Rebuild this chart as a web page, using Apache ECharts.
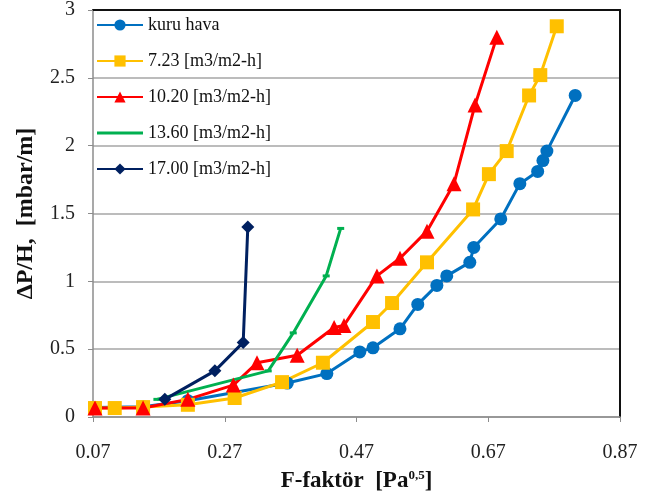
<!DOCTYPE html>
<html>
<head>
<meta charset="utf-8">
<script src="https://cdn.jsdelivr.net/npm/echarts@6/dist/echarts.min.js"></script>
<style>
  html, body { margin: 0; padding: 0; background: #fff; }
  #chart { width: 666px; height: 499px; }
</style>
</head>
<body>
<div id="chart"></div>
<script>
// Pressure drop per packing height vs. F-factor, dry and at four liquid loads
const seriesNames = ['kuru hava', '7.23 [m3/m2-h]', '10.20 [m3/m2-h]', '13.60 [m3/m2-h]', '17.00 [m3/m2-h]'];

const fDry = [0.073, 0.146, 0.214, 0.365, 0.425, 0.475, 0.495, 0.536, 0.563, 0.592, 0.607, 0.642, 0.648, 0.689, 0.718, 0.745, 0.753, 0.759, 0.802];
const dpDry = [0.07, 0.075, 0.12, 0.25, 0.32, 0.48, 0.51, 0.65, 0.83, 0.97, 1.04, 1.14, 1.25, 1.46, 1.72, 1.81, 1.89, 1.96, 2.37];

const f723 = [0.073, 0.103, 0.146, 0.214, 0.285, 0.357, 0.419, 0.495, 0.524, 0.577, 0.647, 0.671, 0.698, 0.732, 0.749, 0.774];
const dp723 = [0.066, 0.066, 0.073, 0.09, 0.14, 0.257, 0.40, 0.70, 0.84, 1.14, 1.53, 1.79, 1.96, 2.37, 2.52, 2.88];

const f1020 = [0.073, 0.146, 0.214, 0.283, 0.319, 0.380, 0.436, 0.451, 0.501, 0.536, 0.577, 0.618, 0.650, 0.683];
const dp1020 = [0.066, 0.066, 0.13, 0.235, 0.40, 0.455, 0.66, 0.675, 1.04, 1.17, 1.37, 1.72, 2.30, 2.80];

const f1360 = [0.167, 0.336, 0.374, 0.424, 0.446];
const dp1360 = [0.13, 0.34, 0.62, 1.04, 1.39];

const f1700 = [0.179, 0.255, 0.298, 0.305];
const dp1700 = [0.13, 0.34, 0.55, 1.40];

const xTicks = { min: 0.07, max: 0.87, step: 0.2 };
const yTicks = { min: 0, max: 3, step: 0.5 };

const pairs = (xs, ys) => xs.map((x, i) => [x, ys[i]]);

const serif = 'Liberation Serif, Times New Roman, serif';
const gridColor = '#a6a6a6';

function lineSeries(name, data, color, symbol, size) {
  return {
    name: name,
    type: 'line',
    data: data,
    xAxisIndex: 0,
    yAxisIndex: 0,
    symbol: symbol,
    symbolSize: size,
    showAllSymbol: true,
    lineStyle: { color: color, width: 3 },
    itemStyle: { color: color },
    emphasis: { disabled: true },
    animation: false
  };
}

const chart = echarts.init(document.getElementById('chart'), null, { renderer: 'canvas' });

chart.setOption({
  backgroundColor: '#ffffff',
  animation: false,
  grid: { left: 93, right: 46, top: 8, bottom: 82, containLabel: false },
  legend: {
    orient: 'vertical',
    left: 91,
    top: 11,
    itemWidth: 46,
    itemHeight: 14,
    itemGap: 18,
    textStyle: { fontFamily: serif, fontSize: 18, color: '#111' },
    data: [
      seriesNames[0],
      seriesNames[1],
      seriesNames[2],
      { name: seriesNames[3], icon: 'path://M0,0H46V3H0Z' },
      seriesNames[4]
    ]
  },
  xAxis: [{
    type: 'value',
    min: xTicks.min,
    max: xTicks.max,
    interval: xTicks.step,
    axisLine: { show: true, lineStyle: { color: '#8c8c8c', width: 1.5 } },
    axisTick: { show: true, length: 5, lineStyle: { color: '#8c8c8c' } },
    axisLabel: {
      margin: 26,
      fontFamily: serif,
      fontSize: 20,
      color: '#222',
      formatter: v => v.toFixed(2)
    },
    splitLine: { show: false },
    name: '{b|F-faktör  [Pa}{s|0,5}{b|]}',
    nameLocation: 'middle',
    nameGap: 52,
    nameTextStyle: {
      rich: {
        b: { fontFamily: serif, fontWeight: 'bold', fontSize: 23, color: '#111', verticalAlign: 'bottom', lineHeight: 24 },
        s: { fontFamily: serif, fontWeight: 'bold', fontSize: 13, color: '#111', verticalAlign: 'top', lineHeight: 24, padding: [0, 0, 10, 0] }
      }
    }
  }, {
    type: 'value',
    position: 'top',
    min: xTicks.min,
    max: xTicks.max,
    axisLine: { show: true, onZero: false, lineStyle: { color: '#111', width: 2 } },
    axisTick: { show: false },
    axisLabel: { show: false },
    splitLine: { show: false }
  }],
  yAxis: [{
    type: 'value',
    min: yTicks.min,
    max: yTicks.max,
    interval: yTicks.step,
    axisLine: { show: true, lineStyle: { color: '#8c8c8c', width: 1.5 } },
    axisTick: { show: true, length: 5, lineStyle: { color: '#8c8c8c' } },
    axisLabel: { margin: 18, fontFamily: serif, fontSize: 20, color: '#222' },
    splitLine: { show: true, lineStyle: { color: gridColor, width: 1.5 } },
    name: 'ΔP/H,  [mbar/m]',
    nameLocation: 'middle',
    nameGap: 55,
    nameTextStyle: { fontFamily: serif, fontWeight: 'bold', fontSize: 24, color: '#111' }
  }, {
    type: 'value',
    position: 'right',
    min: yTicks.min,
    max: yTicks.max,
    axisLine: { show: true, onZero: false, lineStyle: { color: '#111', width: 2 } },
    axisTick: { show: false },
    axisLabel: { show: false },
    splitLine: { show: false }
  }],
  series: [
    lineSeries(seriesNames[0], pairs(fDry, dpDry), '#0070C0', 'circle', 13),
    lineSeries(seriesNames[1], pairs(f723, dp723), '#FFC000', 'rect', 14),
    lineSeries(seriesNames[2], pairs(f1020, dp1020), '#FF0000', 'triangle', 15),
    lineSeries(seriesNames[3], pairs(f1360, dp1360), '#00B050', 'rect', [7, 3]),
    lineSeries(seriesNames[4], pairs(f1700, dp1700), '#002060', 'diamond', 13)
  ]
});
</script>
</body>
</html>
